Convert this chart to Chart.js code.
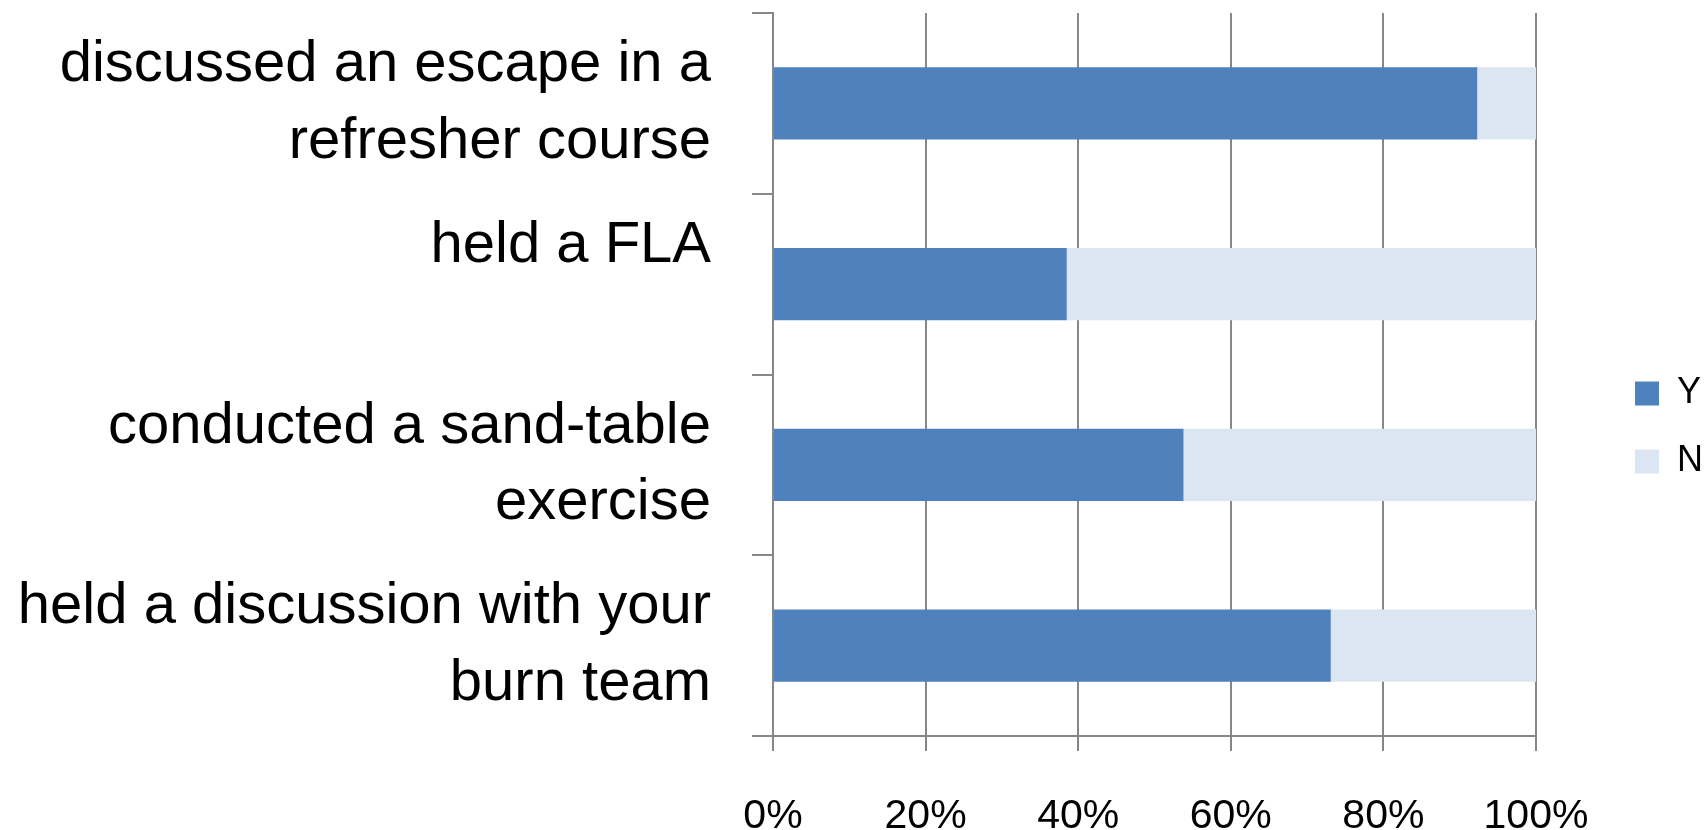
<!DOCTYPE html>
<html>
<head>
<meta charset="utf-8">
<script src="https://cdn.jsdelivr.net/npm/chart.js@4"></script>
<style>
  body { margin: 0; background: #fff; }
</style>
</head>
<body>
<canvas id="myChart" width="1707" height="830"></canvas>
<script>
// categories (top to bottom), shares in percent
let categorias = [
    ["discussed an escape in a", "refresher course"],
    ["held a FLA", ""],
    ["conducted a sand-table", "exercise"],
    ["held a discussion with your", "burn team"]
];
let valoresY = [92.3, 38.5, 53.8, 73.1];
let valoresN = [7.7, 61.5, 46.2, 26.9];
let etiquetasX = ["0%", "20%", "40%", "60%", "80%", "100%"];

let gris = "#878787";

// legend sits to the right of the plot, like in the original sheet
let colocarLeyenda = {
    id: "colocarLeyenda",
    afterInit: (chart) => {
        let ley = chart.legend;
        let fitOriginal = ley.fit;
        ley.fit = function() {
            fitOriginal.call(this);
            this.width = 171;
        };
    },
    afterLayout: (chart) => {
        let ley = chart.legend;
        let dx = chart.chartArea.right + 101 - (ley.left + 34);
        ley.left += dx;
        ley.right += dx;
        ley.top += 6;
        ley.bottom += 6;
    }
};

new Chart("myChart", {
    type: "bar",
    data: {
        labels: categorias,
        datasets: [{
            label: "Y",
            data: valoresY,
            backgroundColor: "#4F81BD"
        }, {
            label: "N",
            data: valoresN,
            backgroundColor: "#DCE6F2"
        }]
    },
    options: {
        indexAxis: "y",
        responsive: false,
        animation: false,
        categoryPercentage: 0.8,
        barPercentage: 0.5,
        layout: { padding: { top: 13, left: 0, right: 0, bottom: 0 } },
        scales: {
            x: {
                stacked: true,
                min: 0,
                max: 100,
                afterFit: (scale) => {
                    scale.height = 94;
                    scale.paddingLeft = 0;
                    scale.paddingRight = 0;
                },
                ticks: {
                    stepSize: 20,
                    padding: 41,
                    color: "#000",
                    font: { family: "Liberation Sans", size: 41 },
                    callback: (v) => etiquetasX[v / 20]
                },
                grid: { color: gris, lineWidth: 2, tickLength: 15 },
                border: { color: gris, width: 2 }
            },
            y: {
                stacked: true,
                afterFit: (scale) => {
                    scale.width = 773;
                    scale.paddingTop = 0;
                    scale.paddingBottom = 0;
                },
                ticks: {
                    padding: 41,
                    color: "#000",
                    font: { family: "Liberation Sans", size: 58, lineHeight: 1.32 }
                },
                grid: { drawOnChartArea: false, color: gris, lineWidth: 2, tickLength: 21 },
                border: { color: gris, width: 2 }
            }
        },
        plugins: {
            tooltip: { enabled: false },
            legend: {
                position: "right",
                labels: {
                    boxWidth: 24,
                    boxHeight: 24,
                    padding: 32,
                    color: "#000",
                    font: { family: "Liberation Sans", size: 36 }
                }
            }
        }
    },
    plugins: [colocarLeyenda]
});
</script>
</body>
</html>
